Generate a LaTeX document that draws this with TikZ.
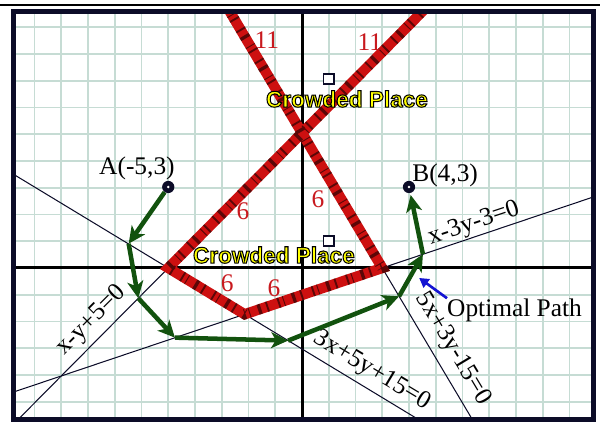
\documentclass[tikz,border=0pt]{standalone}
\usepackage{fontspec}
\setmainfont{Liberation Serif}
\newfontfamily\crowdfont{Liberation Sans}
\usetikzlibrary{arrows.meta}
\definecolor{gridc}{RGB}{198,220,212}
\definecolor{framec}{RGB}{12,12,40}
\definecolor{pathgreen}{RGB}{18,82,14}
\definecolor{bandred}{RGB}{205,16,16}
\definecolor{labred}{RGB}{200,25,30}
\definecolor{optblue}{RGB}{20,20,210}
\definecolor{crowdyellow}{RGB}{255,255,0}
\newcommand\outlined[1]{\special{pdf:literal direct 2 Tr 1.1 w 0 0 0 RG}#1\special{pdf:literal direct 0 Tr}}
\tikzset{
 gridline/.style={draw=gridc,line width=1.7pt},
 axisline/.style={draw=black,line width=3.2pt},
 framebox/.style={draw=framec,line width=5.3pt},
 eqline/.style={draw=framec,line width=1.1pt},
 band/.style={draw=bandred,line width=11pt,line join=miter},
 bandstripe/.style={draw=black,line width=11pt,opacity=.55,line join=miter,
  dash pattern=on 2pt off 6pt on 3.5pt off 9pt on 1pt off 4pt on 2pt off 11pt},
 move/.style={draw=pathgreen,line width=4.8pt,-{Stealth[length=18pt,width=17pt,inset=5pt]}},
 hint/.style={draw=optblue,line width=2.8pt,-{Triangle[length=10pt,width=11pt]}},
 txt/.style={font=\fontsize{27}{31}\selectfont,inner sep=1pt},
 bandlabel/.style={text=labred,font=\fontsize{27}{31}\selectfont,inner sep=0pt},
 crowd/.style={text=crowdyellow,font=\crowdfont\bfseries\fontsize{24}{28}\selectfont,inner sep=0pt},
 spot/.style={draw=framec,line width=1.8pt,fill=white,minimum size=11pt,inner sep=0pt},
 dot/.style={circle,fill=framec,minimum size=13pt,inner sep=0pt,
  path picture={\fill[white] (path picture bounding box.center) circle (1.5pt);}}
}
\begin{document}
\begin{tikzpicture}[x=1cm,y=1.0093cm]
\useasboundingbox (-11.29,-5.704) rectangle (11.14,9.926);
\coordinate (sw) at (-10.78,-5.63);
\coordinate (ne) at (10.88,9.51);
\coordinate (o1) at (-5,0);
\coordinate (o2) at (3,0);
\coordinate (v) at (-2.1429,-1.7143);
\coordinate (t1) at (5,10);
\coordinate (t2) at (-3,10);
\draw[gridline] (sw) grid (ne);
\draw[axisline] (sw |- 0,0) -- (ne |- 0,0);
\draw[axisline] (sw -| 0,0) -- (ne -| 0,0);
\begin{scope}
\clip (sw) rectangle (ne);
\draw[eqline] (-12,-7) -- (t1);
\draw[eqline] (t2) -- (7,-6.667);
\draw[eqline] (-12,4.2) -- (6,-6.6);
\draw[eqline] (-12,-5) -- (12,3);
\draw[band] (t2) -- (o2) -- (v) -- (o1) -- (t1);
\draw[bandstripe] (t2) -- (o2) -- (v) -- (o1) -- (t1);
\end{scope}
\node[bandlabel] (s1) at (-2.21,2.10) {6};
\node[bandlabel] (s2) at (0.60,2.56) {6};
\node[bandlabel] (s3) at (-2.80,-0.56) {6};
\node[bandlabel] (s4) at (-1.05,-0.74) {6};
\node[bandlabel] (e1) at (-1.31,8.44) {11};
\node[bandlabel] (e2) at (2.54,8.37) {11};
\node[spot] (c1) at (1,7) {};
\node[spot] (c2) at (1,1) {};
\node[crowd] (w1) at (1.68,6.26) {\outlined{Crowded Place}};
\node[crowd] (w2) at (-1.05,0.48) {\outlined{Crowded Place}};
\node[txt,rotate=45] (l1) at (-7.87,-1.96) {x-y+5=0};
\node[txt,rotate=18.5] (l4) at (6.43,1.63) {x-3y-3=0};
\node[txt,rotate=-31] (l3) at (2.62,-3.81) {3x+5y+15=0};
\node[txt,rotate=-59] (l2) at (5.64,-3.00) {5x+3y-15=0};
\node[dot] (A) at (-5,3) {};
\node[dot] (B) at (4,3) {};
\node[txt] (Alab) at (-6.17,3.70) {A(-5,3)};
\node[txt] (Blab) at (5.35,3.44) {B(4,3)};
\coordinate (p1) at (-6.48,0.90);
\coordinate (p2) at (-6.12,-1.12);
\coordinate (p3) at (-4.75,-2.58);
\coordinate (p4) at (-0.52,-2.69);
\coordinate (p5) at (3.63,-1.05);
\coordinate (p6) at (4.52,0.51);
\draw[move] (A) -- (p1);
\draw[move] (p1) -- (p2);
\draw[move] (p2) -- (p3);
\draw[move] (p3) -- (p4);
\draw[move] (p4) -- (p5);
\draw[move] (p5) -- (p6);
\draw[move,shorten >=2pt] (p6) -- (B);
\node[txt,anchor=base west,inner sep=0pt] (opt) at (5.42,-1.81) {Optimal Path};
\coordinate (opttail) at (5.42,-1.12);
\coordinate (opttip) at (4.38,-0.37);
\draw[hint] (opttail) -- (opttip);
\draw[framebox] (sw) rectangle (ne);
\draw[line width=2pt] (-11.29,9.74) -- (11.14,9.74);
\end{tikzpicture}
\end{document}
